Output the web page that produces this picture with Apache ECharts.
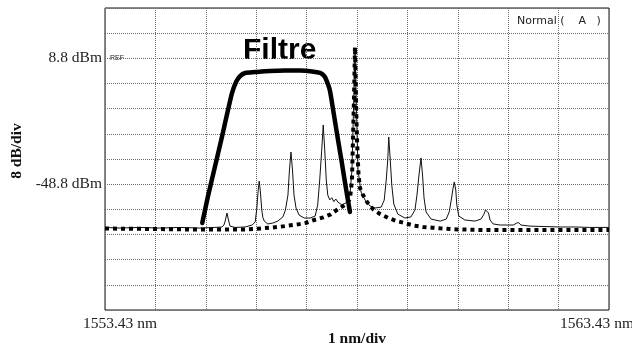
<!DOCTYPE html>
<html>
<head>
<meta charset="utf-8">
<style>
  html, body { margin: 0; padding: 0; background: #fff; }
  #chart { width: 632px; height: 347px; }
</style>
<script src="https://cdn.jsdelivr.net/npm/echarts@6/dist/echarts.min.js"></script>
</head>
<body>
<div id="chart"></div>
<script>
// ---- Data (x: nm from start wavelength, y: dBm) ----
const startNm = 1553.43;
const spanNm = 10;
const xTickLabels = ['1553.43 nm', '1563.43 nm'];
const yTickValuesDbm = [8.8, -48.8];
const yTickLabels = ['8.8 dBm', '-48.8 dBm'];
const yBottomDbm = -106.4;
const dbPerDiv = 11.52;
const yDivs = 12;

// measured spectrum (thin line)
const spectrum = [
  [0,-68.6],[0.30,-68.9],[0.69,-68.6],[1.09,-68.9],[1.49,-68.6],[1.88,-68.9],[2.18,-68.6],[2.32,-68.4],
  [2.36,-67.5],[2.39,-65.2],[2.42,-62.0],[2.45,-65.2],[2.48,-68.0],
  [2.58,-68.6],[2.78,-68.4],[2.92,-67.5],[2.98,-66.1],
  [3.01,-60.3],[3.04,-51.5],[3.06,-47.4],[3.08,-51.5],[3.11,-60.3],[3.13,-63.9],[3.16,-65.7],[3.23,-67.0],
  [3.33,-66.6],[3.43,-65.7],[3.53,-63.8],[3.58,-60.6],[3.63,-53.8],[3.66,-42.3],[3.69,-34.1],[3.72,-42.3],
  [3.75,-53.8],[3.79,-59.7],[3.85,-62.9],[3.95,-64.3],[4.07,-64.3],[4.17,-63.4],[4.22,-58.3],[4.26,-46.9],
  [4.30,-33.2],[4.33,-21.7],[4.36,-33.2],[4.39,-46.9],[4.42,-53.8],[4.46,-56.0],[4.50,-55.0],[4.54,-56.8],
  [4.58,-55.6],[4.62,-57.0],[4.70,-58.3],[4.78,-57.4],[4.86,-53.8],[4.90,-42.3],[4.93,-14.9],[4.96,12.6],
  [4.99,-14.9],[5.02,-42.3],[5.08,-52.4],[5.16,-56.1],[5.26,-58.8],[5.36,-59.7],[5.48,-59.3],[5.54,-56.1],
  [5.58,-46.9],[5.61,-37.7],[5.63,-27.2],[5.66,-37.7],[5.69,-49.2],[5.73,-57.9],[5.81,-62.5],[5.95,-64.3],
  [6.07,-63.8],[6.15,-60.6],[6.19,-53.8],[6.23,-44.6],[6.27,-36.8],[6.30,-44.6],[6.33,-55.1],[6.37,-61.5],
  [6.47,-64.8],[6.65,-65.7],[6.77,-64.8],[6.83,-61.5],[6.87,-56.1],[6.90,-51.5],[6.93,-47.8],[6.96,-51.5],
  [6.98,-58.3],[7.02,-63.4],[7.14,-65.2],[7.34,-65.7],[7.46,-64.8],[7.52,-62.5],[7.55,-60.6],[7.58,-60.2],
  [7.61,-62.0],[7.64,-65.2],[7.70,-67.0],[7.84,-67.5],[7.98,-67.5],[8.10,-67.5],[8.13,-67.0],[8.17,-66.6],
  [8.21,-66.4],[8.25,-67.5],[8.43,-68.0],[8.73,-68.2],[9.03,-68.4],[9.33,-68.4],[9.62,-68.6],[10,-68.6]
];

// filter transmission (thick solid)
const filtre = [
  [1.93,-66.6],[2.04,-54.7],[2.18,-40.9],[2.32,-27.2],[2.44,-14.9],[2.52,-7.1],[2.60,-2.0],[2.68,0.7],
  [2.78,2.1],[2.98,2.5],[3.27,3.0],[3.57,3.2],[3.87,3.2],[4.11,2.8],[4.27,2.1],[4.35,0.7],[4.40,-1.6],
  [4.46,-5.7],[4.54,-16.7],[4.62,-28.1],[4.70,-39.1],[4.78,-50.6],[4.86,-61.5]
];

// laser line (thick dotted)
const laser = [
  [0,-69.1],[0.89,-69.3],[1.88,-69.6],[2.78,-69.5],[3.13,-69.0],[3.47,-68.3],[3.83,-67.2],[3.99,-66.5],
  [4.15,-65.2],[4.33,-64.0],[4.48,-62.6],[4.60,-60.6],[4.78,-58.0],[4.86,-55.6],[4.90,-46.9],[4.92,-28.6],
  [4.94,-10.3],[4.96,14.0],[4.98,-10.3],[5.00,-28.6],[5.03,-44.6],[5.06,-50.6],[5.12,-53.8],[5.20,-57.0],
  [5.32,-60.3],[5.46,-62.5],[5.63,-64.4],[5.79,-65.7],[5.95,-66.6],[6.13,-67.8],[6.31,-68.4],[6.49,-68.7],
  [6.65,-69.0],[7.00,-69.5],[7.50,-69.8],[10,-69.8]
];

// ---- helpers: dBm -> screen divisions ----
const toDiv = v => (v - yBottomDbm) / dbPerDiv;
const conv = arr => arr.map(p => [p[0], toDiv(p[1])]);

const serif = '"Liberation Serif", "Times New Roman", serif';
const chart = echarts.init(document.getElementById('chart'));

const gridLine = { show: true, lineStyle: { color: '#6a6a6a', width: 1, type: [1, 1] } };

chart.setOption({
  animation: false,
  backgroundColor: '#fff',
  grid: { left: 105, top: 8, width: 504, height: 302, outerBoundsMode: 'none', containLabel: false,
          show: true, borderColor: '#111', borderWidth: 1, backgroundColor: 'transparent' },
  xAxis: {
    type: 'value', min: 0, max: spanNm, interval: 1,
    axisLine: { show: false }, axisTick: { show: false },
    splitLine: gridLine,
    name: '1 nm/div', nameLocation: 'middle', nameGap: 21, nameMoveOverlap: false,
    nameTextStyle: { fontFamily: serif, fontSize: 15.5, fontWeight: 'bold', color: '#111' },
    axisLabel: {
      show: true, margin: 6, showMinLabel: true, showMaxLabel: true,
      fontFamily: serif, fontSize: 15.5, color: '#222',
      formatter: v => v === 0 ? '{l|' + xTickLabels[0] + '}' : (v === spanNm ? '{r|' + xTickLabels[1] + '}' : ''),
      rich: {
        l: { fontFamily: serif, fontSize: 15.5, color: '#222', padding: [0, 0, 0, 30] },
        r: { fontFamily: serif, fontSize: 15.5, color: '#222', padding: [0, 24, 0, 0] }
      }
    }
  },
  yAxis: {
    type: 'value', min: 0, max: yDivs, interval: 1,
    axisLine: { show: false }, axisTick: { show: false },
    splitLine: gridLine,
    axisLabel: {
      show: true, margin: 3, fontFamily: serif, fontSize: 15.5, color: '#222',
      formatter: v => {
        const i = yTickValuesDbm.findIndex(d => Math.abs(toDiv(d) - v) < 1e-6);
        return i >= 0 ? yTickLabels[i] : '';
      }
    }
  },
  graphic: [
    { type: 'text', x: 17, y: 151, rotation: Math.PI / 2,
      style: { text: '8 dB/div', fontFamily: serif, fontSize: 15.5, fontWeight: 'bold', fill: '#111', align: 'center', verticalAlign: 'middle' } },
    { type: 'text', x: 110, y: 58.5,
      style: { text: 'REF', fontFamily: '"Liberation Sans", Arial, sans-serif', fontSize: 7, fill: '#222', align: 'left', verticalAlign: 'middle' } },
    { type: 'text', x: 517, y: 21,
      style: { text: 'Normal (    A   )', fontFamily: '"DejaVu Sans", sans-serif', fontSize: 11, fill: '#222', align: 'left', verticalAlign: 'middle' } },
    { type: 'text', x: 243, y: 51,
      style: { text: 'Filtre', fontFamily: '"Liberation Sans", Arial, sans-serif', fontSize: 30, fontWeight: 'bold', fill: '#000', align: 'left', verticalAlign: 'middle' } }
  ],
  series: [
    { type: 'line', name: 'spectre', data: conv(spectrum), showSymbol: false, z: 2,
      lineStyle: { color: '#111', width: 1 } },
    { type: 'line', name: 'Filtre', data: conv(filtre), showSymbol: false, z: 3, smooth: 0.25,
      lineStyle: { color: '#000', width: 4.5, cap: 'round', join: 'round' } },
    { type: 'line', name: 'laser', data: conv(laser), showSymbol: false, z: 4,
      lineStyle: { color: '#000', width: 4, type: [4, 4], cap: 'butt' } }
  ]
});
</script>
</body>
</html>
